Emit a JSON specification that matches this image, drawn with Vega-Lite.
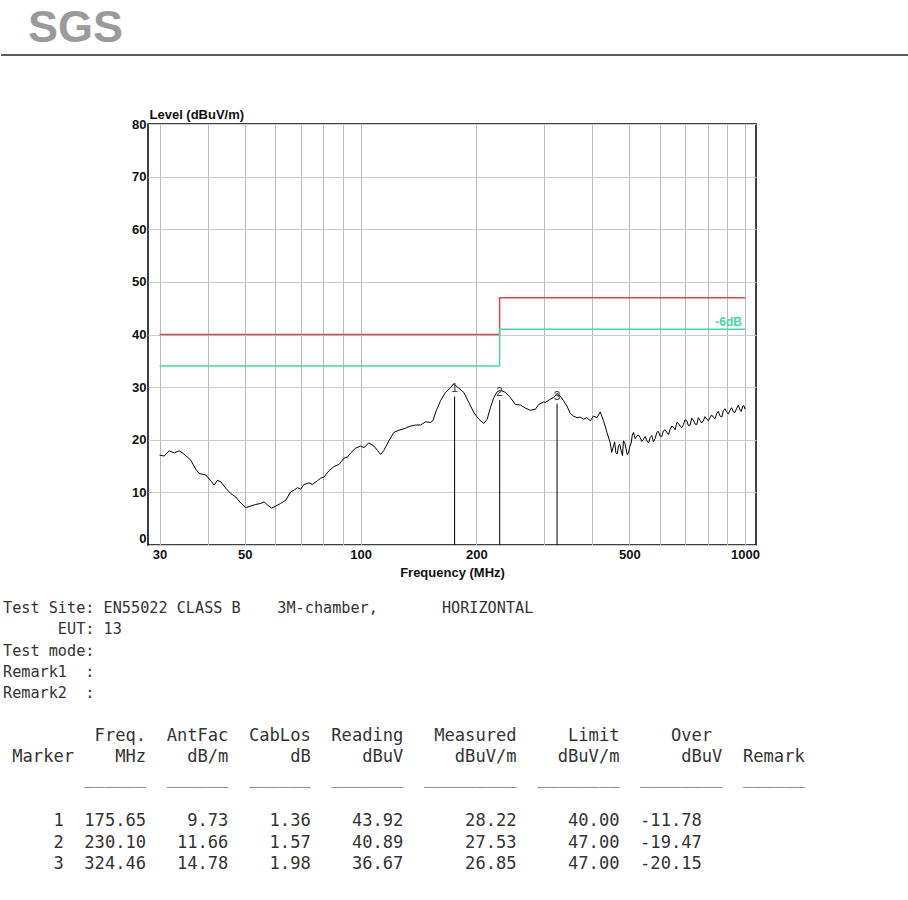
{
  "$schema": "https://vega.github.io/schema/vega-lite/v6.json",
  "background": "white",
  "padding": 0,
  "spacing": 21,
  "config": {"view": {"stroke": null}, "font": "Liberation Sans"},
  "datasets": {
    "limit": [
      {"freq": 30, "limit": 40, "margin6": 34},
      {"freq": 230, "limit": 47, "margin6": 41},
      {"freq": 1000, "limit": 47, "margin6": 41}
    ],
    "markers": [
      {"marker": 1, "freq": 175.65, "measured": 28.22, "label": "1"},
      {"marker": 2, "freq": 230.10, "measured": 27.53, "label": "2"},
      {"marker": 3, "freq": 324.46, "measured": 26.85, "label": "3"}
    ],
    "trace": [
      {"freq": 30, "level": 17.1}, {"freq": 30.84, "level": 16.9}, {"freq": 31.77, "level": 17.9}, {"freq": 32.74, "level": 17.5},
      {"freq": 33.73, "level": 17.9}, {"freq": 34.42, "level": 17.5}, {"freq": 35.47, "level": 16.7}, {"freq": 36.18, "level": 16.1},
      {"freq": 37.28, "level": 14.4}, {"freq": 38.02, "level": 13.6}, {"freq": 39.58, "level": 13.3}, {"freq": 40.78, "level": 12.2},
      {"freq": 41.6, "level": 11.4}, {"freq": 42.45, "level": 12.3}, {"freq": 43.3, "level": 12.0}, {"freq": 44.61, "level": 10.8},
      {"freq": 45.96, "level": 9.8}, {"freq": 47.36, "level": 9.1}, {"freq": 48.8, "level": 8.0}, {"freq": 50.28, "level": 7.1},
      {"freq": 51.8, "level": 7.4}, {"freq": 53.38, "level": 7.7}, {"freq": 55.0, "level": 7.9}, {"freq": 56.1, "level": 8.2},
      {"freq": 57.25, "level": 7.6}, {"freq": 58.74, "level": 7.0}, {"freq": 60.16, "level": 7.4}, {"freq": 61.99, "level": 7.9},
      {"freq": 63.87, "level": 8.5}, {"freq": 65.81, "level": 10.1}, {"freq": 67.13, "level": 10.4}, {"freq": 68.5, "level": 10.9},
      {"freq": 69.87, "level": 10.6}, {"freq": 71.26, "level": 11.5}, {"freq": 73.43, "level": 11.8}, {"freq": 74.94, "level": 11.5},
      {"freq": 77.21, "level": 12.2}, {"freq": 78.75, "level": 12.7}, {"freq": 80.32, "level": 12.9}, {"freq": 82.76, "level": 14.1},
      {"freq": 85.28, "level": 14.9}, {"freq": 87.87, "level": 15.3}, {"freq": 90.53, "level": 16.5}, {"freq": 92.39, "level": 16.7},
      {"freq": 94.24, "level": 17.5}, {"freq": 97.1, "level": 18.4}, {"freq": 100.05, "level": 18.8}, {"freq": 102.05, "level": 18.5},
      {"freq": 105.14, "level": 19.4}, {"freq": 108.34, "level": 18.8}, {"freq": 110.56, "level": 18.0}, {"freq": 112.76, "level": 17.2},
      {"freq": 115.01, "level": 18.0}, {"freq": 118.51, "level": 19.8}, {"freq": 122.1, "level": 21.4}, {"freq": 125.81, "level": 21.8},
      {"freq": 130.95, "level": 22.2}, {"freq": 134.92, "level": 22.6}, {"freq": 139.02, "level": 22.8}, {"freq": 143.24, "level": 22.8},
      {"freq": 147.59, "level": 23.4}, {"freq": 152.07, "level": 23.3}, {"freq": 154.17, "level": 23.6}, {"freq": 157.34, "level": 25.5},
      {"freq": 161.43, "level": 27.4}, {"freq": 166.33, "level": 29.0}, {"freq": 171.38, "level": 29.9}, {"freq": 174.8, "level": 30.6},
      {"freq": 180.1, "level": 29.8}, {"freq": 185.57, "level": 29.0}, {"freq": 191.2, "level": 27.1}, {"freq": 197.01, "level": 25.2},
      {"freq": 202.99, "level": 23.9}, {"freq": 209.15, "level": 23.1}, {"freq": 213.45, "level": 23.9}, {"freq": 217.7, "level": 26.1},
      {"freq": 222.05, "level": 28.0}, {"freq": 226.61, "level": 29.1}, {"freq": 231.13, "level": 29.4}, {"freq": 238.15, "level": 29.0},
      {"freq": 245.38, "level": 28.0}, {"freq": 252.83, "level": 26.7}, {"freq": 260.51, "level": 26.6}, {"freq": 268.42, "level": 26.0},
      {"freq": 276.56, "level": 25.6}, {"freq": 284.96, "level": 25.8}, {"freq": 290.63, "level": 26.7}, {"freq": 299.28, "level": 27.2},
      {"freq": 302.34, "level": 27.1}, {"freq": 311.51, "level": 27.7}, {"freq": 317.73, "level": 28.0}, {"freq": 324.26, "level": 28.8},
      {"freq": 330.73, "level": 28.3}, {"freq": 337.32, "level": 27.4}, {"freq": 344.25, "level": 26.4}, {"freq": 351.11, "level": 25.0},
      {"freq": 358.11, "level": 24.5}, {"freq": 365.47, "level": 24.2}, {"freq": 372.77, "level": 24.3}, {"freq": 380.21, "level": 23.9},
      {"freq": 388.01, "level": 24.2}, {"freq": 395.75, "level": 23.6}, {"freq": 403.65, "level": 24.5}, {"freq": 411.94, "level": 24.2},
      {"freq": 420.16, "level": 25.3}, {"freq": 428.55, "level": 23.6}, {"freq": 437.35, "level": 21.4}, {"freq": 446.07, "level": 19.4},
      {"freq": 450, "level": 17.6}, {"freq": 454.97, "level": 18.8}, {"freq": 458, "level": 19.6}, {"freq": 461.54, "level": 17.5},
      {"freq": 465, "level": 17.3}, {"freq": 468.79, "level": 18.8}, {"freq": 472, "level": 19.2}, {"freq": 476.43, "level": 17.9},
      {"freq": 480, "level": 17.0}, {"freq": 483.02, "level": 19.8}, {"freq": 487, "level": 19.3}, {"freq": 490.01, "level": 18.4},
      {"freq": 494, "level": 17.2}, {"freq": 497.7, "level": 17.5}, {"freq": 501, "level": 18.6}, {"freq": 505.8, "level": 19.4},
      {"freq": 509, "level": 20.9}, {"freq": 512.8, "level": 21.4}, {"freq": 518, "level": 20.2}, {"freq": 523.34, "level": 20.7},
      {"freq": 528, "level": 20.9}, {"freq": 533.76, "level": 20.4}, {"freq": 539, "level": 19.7}, {"freq": 544.4, "level": 20.1},
      {"freq": 550, "level": 20.6}, {"freq": 555.59, "level": 19.8}, {"freq": 561, "level": 19.4}, {"freq": 566.65, "level": 20.4},
      {"freq": 572, "level": 20.8}, {"freq": 577.96, "level": 19.6}, {"freq": 584, "level": 20.3}, {"freq": 589.84, "level": 21.4},
      {"freq": 595, "level": 21.6}, {"freq": 601.59, "level": 20.7}, {"freq": 607, "level": 20.6}, {"freq": 613.6, "level": 21.7},
      {"freq": 620, "level": 21.9}, {"freq": 626.21, "level": 21.4}, {"freq": 632, "level": 21.0}, {"freq": 638.68, "level": 22.0},
      {"freq": 645, "level": 22.6}, {"freq": 651.41, "level": 22.4}, {"freq": 658, "level": 21.9}, {"freq": 664.79, "level": 23.3},
      {"freq": 671, "level": 23.1}, {"freq": 678.05, "level": 22.6}, {"freq": 685, "level": 22.3}, {"freq": 691.57, "level": 22.9},
      {"freq": 698, "level": 23.8}, {"freq": 705.79, "level": 23.6}, {"freq": 712, "level": 22.7}, {"freq": 719.65, "level": 22.8},
      {"freq": 727, "level": 24.1}, {"freq": 734, "level": 23.7}, {"freq": 741, "level": 23.0}, {"freq": 749.07, "level": 22.9},
      {"freq": 756, "level": 24.2}, {"freq": 764.01, "level": 23.7}, {"freq": 771, "level": 23.2}, {"freq": 779.24, "level": 23.6},
      {"freq": 787, "level": 24.4}, {"freq": 795.25, "level": 23.9}, {"freq": 803, "level": 23.6}, {"freq": 811.11, "level": 24.2},
      {"freq": 819, "level": 24.7}, {"freq": 827.29, "level": 24.3}, {"freq": 836, "level": 24.0}, {"freq": 844.27, "level": 25.0},
      {"freq": 852, "level": 25.4}, {"freq": 861.12, "level": 24.5}, {"freq": 870, "level": 24.3}, {"freq": 878.29, "level": 25.5},
      {"freq": 887, "level": 25.9}, {"freq": 896.33, "level": 25.2}, {"freq": 905, "level": 24.9}, {"freq": 914.21, "level": 25.6},
      {"freq": 923, "level": 26.1}, {"freq": 932.45, "level": 25.3}, {"freq": 942, "level": 25.2}, {"freq": 951.6, "level": 26.0},
      {"freq": 961, "level": 26.6}, {"freq": 970.58, "level": 25.6}, {"freq": 978, "level": 25.4}, {"freq": 986.38, "level": 26.4},
      {"freq": 993, "level": 26.5}, {"freq": 1000, "level": 25.8}
    ],
    "info": [
      {"line": 0, "text": "\u200bTest\u00a0Site:\u00a0EN55022\u00a0CLASS\u00a0B\u00a0\u00a0\u00a0\u00a03M-chamber,\u00a0\u00a0\u00a0\u00a0\u00a0\u00a0\u00a0HORIZONTAL"},
      {"line": 1, "text": "\u200b\u00a0\u00a0\u00a0\u00a0\u00a0\u00a0EUT:\u00a013"},
      {"line": 2, "text": "\u200bTest\u00a0mode:"},
      {"line": 3, "text": "\u200bRemark1\u00a0\u00a0:"},
      {"line": 4, "text": "\u200bRemark2\u00a0\u00a0:"}
    ],
    "table": [
      {"line": 6, "text": "\u200b\u00a0\u00a0\u00a0\u00a0\u00a0\u00a0\u00a0\u00a0\u00a0Freq.\u00a0\u00a0AntFac\u00a0\u00a0CabLos\u00a0\u00a0Reading\u00a0\u00a0\u00a0Measured\u00a0\u00a0\u00a0\u00a0\u00a0Limit\u00a0\u00a0\u00a0\u00a0\u00a0Over"},
      {"line": 7, "text": "\u200b\u00a0Marker\u00a0\u00a0\u00a0\u00a0MHz\u00a0\u00a0\u00a0\u00a0dB/m\u00a0\u00a0\u00a0\u00a0\u00a0\u00a0dB\u00a0\u00a0\u00a0\u00a0\u00a0dBuV\u00a0\u00a0\u00a0\u00a0\u00a0dBuV/m\u00a0\u00a0\u00a0\u00a0dBuV/m\u00a0\u00a0\u00a0\u00a0\u00a0\u00a0dBuV\u00a0\u00a0Remark"},
      {"line": 8, "text": "\u200b\u00a0\u00a0\u00a0\u00a0\u00a0\u00a0\u00a0\u00a0______\u00a0\u00a0______\u00a0\u00a0______\u00a0\u00a0_______\u00a0\u00a0_________\u00a0\u00a0________\u00a0\u00a0________\u00a0\u00a0______"},
      {"line": 10, "text": "\u200b\u00a0\u00a0\u00a0\u00a0\u00a01\u00a0\u00a0175.65\u00a0\u00a0\u00a0\u00a09.73\u00a0\u00a0\u00a0\u00a01.36\u00a0\u00a0\u00a0\u00a043.92\u00a0\u00a0\u00a0\u00a0\u00a0\u00a028.22\u00a0\u00a0\u00a0\u00a0\u00a040.00\u00a0\u00a0-11.78"},
      {"line": 11, "text": "\u200b\u00a0\u00a0\u00a0\u00a0\u00a02\u00a0\u00a0230.10\u00a0\u00a0\u00a011.66\u00a0\u00a0\u00a0\u00a01.57\u00a0\u00a0\u00a0\u00a040.89\u00a0\u00a0\u00a0\u00a0\u00a0\u00a027.53\u00a0\u00a0\u00a0\u00a0\u00a047.00\u00a0\u00a0-19.47"},
      {"line": 12, "text": "\u200b\u00a0\u00a0\u00a0\u00a0\u00a03\u00a0\u00a0324.46\u00a0\u00a0\u00a014.78\u00a0\u00a0\u00a0\u00a01.98\u00a0\u00a0\u00a0\u00a036.67\u00a0\u00a0\u00a0\u00a0\u00a0\u00a026.85\u00a0\u00a0\u00a0\u00a0\u00a047.00\u00a0\u00a0-20.15"}
    ]
  },
  "vconcat": [
    {
      "spacing": 51,
      "vconcat": [
        {
          "width": 908,
          "height": 55,
          "layer": [
            {
              "data": {"values": [{"edge": 0}]},
              "mark": {"type": "rule", "color": "#222222", "strokeWidth": 1.5},
              "encoding": {
                "y": {"field": "edge", "type": "quantitative", "scale": {"domain": [0, 1]}, "axis": null}
              }
            },
            {
              "data": {"values": [{"logo": "SGS"}]},
              "mark": {"type": "text", "align": "left", "baseline": "middle", "dx": 27, "font": "Liberation Sans", "fontSize": 45, "fontWeight": "bold", "color": "#9a9a9a"},
              "encoding": {
                "x": {"datum": 0, "type": "quantitative", "scale": {"domain": [0, 1]}, "axis": null},
                "text": {"field": "logo"}
              }
            }
          ]
        },
        {
          "spacing": 0,
          "hconcat": [
            {
              "width": 128,
              "height": 1,
              "data": {"values": [{"blank": ""}]},
              "mark": {"type": "text"},
              "encoding": {"text": {"field": "blank"}}
            },
            {
              "width": 608,
              "height": 421,
              "view": {"stroke": "#000000", "strokeWidth": 1.5},
              "layer": [
                {
                  "data": {"name": "limit"},
                  "mark": {"type": "line", "interpolate": "step-after", "color": "#d84848", "strokeWidth": 1.5},
                  "encoding": {
                    "x": {
                      "field": "freq", "type": "quantitative", "title": "Frequency (MHz)",
                      "scale": {"type": "log", "domain": [28, 1068], "nice": false},
                      "axis": {
                        "title": "Frequency (MHz)",
                        "values": [30, 40, 50, 60, 70, 80, 90, 100, 200, 300, 400, 500, 600, 700, 800, 900, 1000],
                        "labelExpr": "indexof([30, 50, 100, 200, 500, 1000], datum.value) >= 0 ? format(datum.value, 'd') : ''",
                        "labelOverlap": false,
                        "labelFlush": false,
                        "labelFont": "Liberation Sans", "labelFontWeight": "bold", "labelFontSize": 13, "labelColor": "#111111",
                        "labelPadding": 3, "ticks": false, "tickSize": 0, "domain": false,
                        "grid": true, "gridColor": "#bbbbbb", "gridWidth": 1,
                        "titleFont": "Liberation Sans", "titleFontWeight": "bold", "titleFontSize": 13, "titleColor": "#111111", "titlePadding": 5
                      }
                    },
                    "y": {
                      "field": "limit", "type": "quantitative", "title": "Level (dBuV/m)",
                      "scale": {"domain": [0, 80], "nice": false},
                      "axis": {
                        "title": "Level (dBuV/m)",
                        "values": [0, 10, 20, 30, 40, 50, 60, 70, 80],
                        "titleAngle": 0, "titleAlign": "left", "titleBaseline": "alphabetic", "titleX": 1, "titleY": -6,
                        "titleFont": "Liberation Sans", "titleFontWeight": "bold", "titleFontSize": 13, "titleColor": "#111111",
                        "labelFont": "Liberation Sans", "labelFontWeight": "bold", "labelFontSize": 13, "labelColor": "#111111",
                        "labelPadding": 2, "ticks": false, "tickSize": 0, "domain": false, "labelFlush": false,
                        "labelBaseline": {"condition": {"test": "datum.value === 0", "value": "bottom"}, "value": "middle"},
                        "minExtent": 18, "maxExtent": 18,
                        "grid": true, "gridColor": "#cccccc", "gridWidth": 1
                      }
                    }
                  }
                },
                {
                  "data": {"name": "limit"},
                  "mark": {"type": "line", "interpolate": "step-after", "color": "#44d9a6", "strokeWidth": 1.5},
                  "encoding": {
                    "x": {"field": "freq", "type": "quantitative", "title": "Frequency (MHz)"},
                    "y": {"field": "margin6", "type": "quantitative", "title": "Level (dBuV/m)"}
                  }
                },
                {
                  "data": {"name": "trace"},
                  "mark": {"type": "line", "color": "#000000", "strokeWidth": 1},
                  "encoding": {
                    "x": {"field": "freq", "type": "quantitative", "title": "Frequency (MHz)"},
                    "y": {"field": "level", "type": "quantitative", "title": "Level (dBuV/m)"}
                  }
                },
                {
                  "data": {"name": "markers"},
                  "mark": {"type": "rule", "color": "#000000", "strokeWidth": 1},
                  "encoding": {
                    "x": {"field": "freq", "type": "quantitative", "title": "Frequency (MHz)"},
                    "y": {"field": "measured", "type": "quantitative", "title": "Level (dBuV/m)"},
                    "y2": {"datum": 0}
                  }
                },
                {
                  "data": {"name": "markers"},
                  "mark": {"type": "text", "baseline": "bottom", "dy": -1, "font": "Liberation Sans", "fontSize": 12, "color": "#444444"},
                  "encoding": {
                    "x": {"field": "freq", "type": "quantitative", "title": "Frequency (MHz)"},
                    "y": {"field": "measured", "type": "quantitative", "title": "Level (dBuV/m)"},
                    "text": {"field": "label"}
                  }
                },
                {
                  "data": {"values": [{"freq": 1000, "margin6": 41, "label": "-6dB"}]},
                  "mark": {"type": "text", "align": "right", "baseline": "alphabetic", "dx": -3, "dy": -3, "font": "Liberation Sans", "fontSize": 12, "fontWeight": "bold", "color": "#44d9a6"},
                  "encoding": {
                    "x": {"field": "freq", "type": "quantitative", "title": "Frequency (MHz)"},
                    "y": {"field": "margin6", "type": "quantitative", "title": "Level (dBuV/m)"},
                    "text": {"field": "label"}
                  }
                }
              ]
            }
          ]
        }
      ]
    },
    {
      "width": 908,
      "height": 256,
      "layer": [
        {
          "data": {"name": "info"},
          "mark": {"type": "text", "align": "left", "baseline": "middle", "dx": 2, "font": "DejaVu Sans Mono", "fontSize": 15.2, "color": "#333333"},
          "encoding": {
            "x": {"datum": 0, "type": "quantitative", "scale": {"domain": [0, 1]}, "axis": null},
            "y": {"field": "line", "type": "quantitative", "scale": {"domain": [0, 12], "reverse": true}, "axis": null},
            "text": {"field": "text"}
          }
        },
        {
          "data": {"name": "table"},
          "mark": {"type": "text", "align": "left", "baseline": "middle", "dx": 1, "font": "DejaVu Sans Mono", "fontSize": 17.1, "color": "#333333"},
          "encoding": {
            "x": {"datum": 0, "type": "quantitative", "axis": null},
            "y": {"field": "line", "type": "quantitative", "axis": null},
            "text": {"field": "text"}
          }
        }
      ]
    }
  ]
}
